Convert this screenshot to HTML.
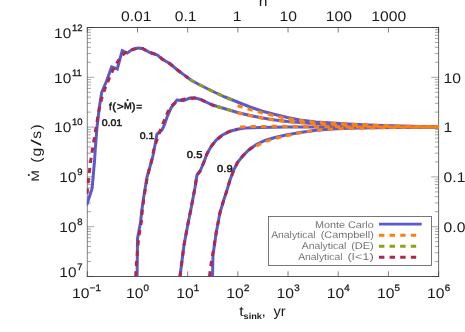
<!DOCTYPE html>
<html><head><meta charset="utf-8"><style>html,body{margin:0;padding:0;background:#fff}svg{display:block;will-change:transform;transform:translateZ(0)}text{text-rendering:geometricPrecision;font-family:"Liberation Sans",sans-serif}</style></head><body><svg width="465" height="332" viewBox="0 0 465 332">
<rect width="465" height="332" fill="#fff"/>
<g stroke="#2a2a2a" stroke-width="0.42" fill="none">
<line x1="86.89999999999999" y1="27.5" x2="439.0" y2="27.5" stroke-width="0.85"/>
<line x1="86.89999999999999" y1="276.5" x2="439.0" y2="276.5" stroke-width="0.8"/>
<line x1="87.3" y1="27.5" x2="87.3" y2="276.5" stroke-width="0.6"/>
<line x1="438.6" y1="27.5" x2="438.6" y2="276.9" stroke-width="0.7"/>
<line x1="87.30" y1="27.5" x2="87.30" y2="32.5" stroke-width="0.6"/>
<line x1="87.30" y1="276.5" x2="87.30" y2="271.3" stroke-width="0.6"/>
<line x1="137.49" y1="27.5" x2="137.49" y2="32.5" stroke-width="0.6"/>
<line x1="137.49" y1="276.5" x2="137.49" y2="271.3" stroke-width="0.6"/>
<line x1="187.67" y1="27.5" x2="187.67" y2="32.5" stroke-width="0.6"/>
<line x1="187.67" y1="276.5" x2="187.67" y2="271.3" stroke-width="0.6"/>
<line x1="237.86" y1="27.5" x2="237.86" y2="32.5" stroke-width="0.6"/>
<line x1="237.86" y1="276.5" x2="237.86" y2="271.3" stroke-width="0.6"/>
<line x1="288.04" y1="27.5" x2="288.04" y2="32.5" stroke-width="0.6"/>
<line x1="288.04" y1="276.5" x2="288.04" y2="271.3" stroke-width="0.6"/>
<line x1="338.23" y1="27.5" x2="338.23" y2="32.5" stroke-width="0.6"/>
<line x1="338.23" y1="276.5" x2="338.23" y2="271.3" stroke-width="0.6"/>
<line x1="388.41" y1="27.5" x2="388.41" y2="32.5" stroke-width="0.6"/>
<line x1="388.41" y1="276.5" x2="388.41" y2="271.3" stroke-width="0.6"/>
<line x1="438.60" y1="27.5" x2="438.60" y2="32.5" stroke-width="0.6"/>
<line x1="438.60" y1="276.5" x2="438.60" y2="271.3" stroke-width="0.6"/>
<line x1="87.3" y1="27.50" x2="94.1" y2="27.50"/>
<line x1="438.6" y1="27.50" x2="431.20000000000005" y2="27.50"/>
<line x1="87.3" y1="62.31" x2="91.0" y2="62.31"/>
<line x1="438.6" y1="62.31" x2="434.90000000000003" y2="62.31"/>
<line x1="87.3" y1="53.54" x2="91.0" y2="53.54"/>
<line x1="438.6" y1="53.54" x2="434.90000000000003" y2="53.54"/>
<line x1="87.3" y1="47.32" x2="91.0" y2="47.32"/>
<line x1="438.6" y1="47.32" x2="434.90000000000003" y2="47.32"/>
<line x1="87.3" y1="42.49" x2="91.0" y2="42.49"/>
<line x1="438.6" y1="42.49" x2="434.90000000000003" y2="42.49"/>
<line x1="87.3" y1="38.55" x2="91.0" y2="38.55"/>
<line x1="438.6" y1="38.55" x2="434.90000000000003" y2="38.55"/>
<line x1="87.3" y1="35.21" x2="91.0" y2="35.21"/>
<line x1="438.6" y1="35.21" x2="434.90000000000003" y2="35.21"/>
<line x1="87.3" y1="32.33" x2="91.0" y2="32.33"/>
<line x1="438.6" y1="32.33" x2="434.90000000000003" y2="32.33"/>
<line x1="87.3" y1="29.78" x2="91.0" y2="29.78"/>
<line x1="438.6" y1="29.78" x2="434.90000000000003" y2="29.78"/>
<line x1="87.3" y1="77.30" x2="94.1" y2="77.30"/>
<line x1="438.6" y1="77.30" x2="431.20000000000005" y2="77.30"/>
<line x1="87.3" y1="112.11" x2="91.0" y2="112.11"/>
<line x1="438.6" y1="112.11" x2="434.90000000000003" y2="112.11"/>
<line x1="87.3" y1="103.34" x2="91.0" y2="103.34"/>
<line x1="438.6" y1="103.34" x2="434.90000000000003" y2="103.34"/>
<line x1="87.3" y1="97.12" x2="91.0" y2="97.12"/>
<line x1="438.6" y1="97.12" x2="434.90000000000003" y2="97.12"/>
<line x1="87.3" y1="92.29" x2="91.0" y2="92.29"/>
<line x1="438.6" y1="92.29" x2="434.90000000000003" y2="92.29"/>
<line x1="87.3" y1="88.35" x2="91.0" y2="88.35"/>
<line x1="438.6" y1="88.35" x2="434.90000000000003" y2="88.35"/>
<line x1="87.3" y1="85.01" x2="91.0" y2="85.01"/>
<line x1="438.6" y1="85.01" x2="434.90000000000003" y2="85.01"/>
<line x1="87.3" y1="82.13" x2="91.0" y2="82.13"/>
<line x1="438.6" y1="82.13" x2="434.90000000000003" y2="82.13"/>
<line x1="87.3" y1="79.58" x2="91.0" y2="79.58"/>
<line x1="438.6" y1="79.58" x2="434.90000000000003" y2="79.58"/>
<line x1="87.3" y1="127.10" x2="94.1" y2="127.10"/>
<line x1="438.6" y1="127.10" x2="431.20000000000005" y2="127.10"/>
<line x1="87.3" y1="161.91" x2="91.0" y2="161.91"/>
<line x1="438.6" y1="161.91" x2="434.90000000000003" y2="161.91"/>
<line x1="87.3" y1="153.14" x2="91.0" y2="153.14"/>
<line x1="438.6" y1="153.14" x2="434.90000000000003" y2="153.14"/>
<line x1="87.3" y1="146.92" x2="91.0" y2="146.92"/>
<line x1="438.6" y1="146.92" x2="434.90000000000003" y2="146.92"/>
<line x1="87.3" y1="142.09" x2="91.0" y2="142.09"/>
<line x1="438.6" y1="142.09" x2="434.90000000000003" y2="142.09"/>
<line x1="87.3" y1="138.15" x2="91.0" y2="138.15"/>
<line x1="438.6" y1="138.15" x2="434.90000000000003" y2="138.15"/>
<line x1="87.3" y1="134.81" x2="91.0" y2="134.81"/>
<line x1="438.6" y1="134.81" x2="434.90000000000003" y2="134.81"/>
<line x1="87.3" y1="131.93" x2="91.0" y2="131.93"/>
<line x1="438.6" y1="131.93" x2="434.90000000000003" y2="131.93"/>
<line x1="87.3" y1="129.38" x2="91.0" y2="129.38"/>
<line x1="438.6" y1="129.38" x2="434.90000000000003" y2="129.38"/>
<line x1="87.3" y1="176.90" x2="94.1" y2="176.90"/>
<line x1="438.6" y1="176.90" x2="431.20000000000005" y2="176.90"/>
<line x1="87.3" y1="211.71" x2="91.0" y2="211.71"/>
<line x1="438.6" y1="211.71" x2="434.90000000000003" y2="211.71"/>
<line x1="87.3" y1="202.94" x2="91.0" y2="202.94"/>
<line x1="438.6" y1="202.94" x2="434.90000000000003" y2="202.94"/>
<line x1="87.3" y1="196.72" x2="91.0" y2="196.72"/>
<line x1="438.6" y1="196.72" x2="434.90000000000003" y2="196.72"/>
<line x1="87.3" y1="191.89" x2="91.0" y2="191.89"/>
<line x1="438.6" y1="191.89" x2="434.90000000000003" y2="191.89"/>
<line x1="87.3" y1="187.95" x2="91.0" y2="187.95"/>
<line x1="438.6" y1="187.95" x2="434.90000000000003" y2="187.95"/>
<line x1="87.3" y1="184.61" x2="91.0" y2="184.61"/>
<line x1="438.6" y1="184.61" x2="434.90000000000003" y2="184.61"/>
<line x1="87.3" y1="181.73" x2="91.0" y2="181.73"/>
<line x1="438.6" y1="181.73" x2="434.90000000000003" y2="181.73"/>
<line x1="87.3" y1="179.18" x2="91.0" y2="179.18"/>
<line x1="438.6" y1="179.18" x2="434.90000000000003" y2="179.18"/>
<line x1="87.3" y1="226.70" x2="94.1" y2="226.70"/>
<line x1="438.6" y1="226.70" x2="431.20000000000005" y2="226.70"/>
<line x1="87.3" y1="261.51" x2="91.0" y2="261.51"/>
<line x1="438.6" y1="261.51" x2="434.90000000000003" y2="261.51"/>
<line x1="87.3" y1="252.74" x2="91.0" y2="252.74"/>
<line x1="438.6" y1="252.74" x2="434.90000000000003" y2="252.74"/>
<line x1="87.3" y1="246.52" x2="91.0" y2="246.52"/>
<line x1="438.6" y1="246.52" x2="434.90000000000003" y2="246.52"/>
<line x1="87.3" y1="241.69" x2="91.0" y2="241.69"/>
<line x1="438.6" y1="241.69" x2="434.90000000000003" y2="241.69"/>
<line x1="87.3" y1="237.75" x2="91.0" y2="237.75"/>
<line x1="438.6" y1="237.75" x2="434.90000000000003" y2="237.75"/>
<line x1="87.3" y1="234.41" x2="91.0" y2="234.41"/>
<line x1="438.6" y1="234.41" x2="434.90000000000003" y2="234.41"/>
<line x1="87.3" y1="231.53" x2="91.0" y2="231.53"/>
<line x1="438.6" y1="231.53" x2="434.90000000000003" y2="231.53"/>
<line x1="87.3" y1="228.98" x2="91.0" y2="228.98"/>
<line x1="438.6" y1="228.98" x2="434.90000000000003" y2="228.98"/>
<line x1="87.3" y1="276.50" x2="94.1" y2="276.50"/>
<line x1="438.6" y1="276.50" x2="431.20000000000005" y2="276.50"/>
</g>
<clipPath id="cp"><rect x="86.8" y="27.5" width="352.2" height="249.4"/></clipPath>
<g clip-path="url(#cp)">
<polyline points="86.60,205.50 92.10,188.50 93.30,175.00 94.60,160.00 95.20,150.00 97.00,127.50 99.30,107.50 101.70,92.50 106.50,81.25 111.60,66.90 117.25,69.00 122.25,50.60 127.25,53.10 132.25,49.40 137.90,48.00 142.50,48.50 150.00,52.50 157.50,55.00 162.50,59.40 170.00,63.75 177.50,70.00 185.00,75.60 191.50,80.50 200.00,85.00 212.50,91.25 225.00,97.00 237.50,102.00 250.00,107.00 262.50,111.25 275.00,114.50 287.50,117.50 300.00,120.00 316.00,122.00 332.00,123.10 348.00,124.00 375.00,125.20 400.00,126.10 420.00,126.60 439.00,127.00" fill="none" stroke="#5A5ACD" stroke-width="3.0" stroke-linejoin="miter"/>
<polyline points="137.10,276.50 137.50,238.60 140.60,222.00 141.80,210.50 143.90,195.80 147.10,176.80 151.90,160.00 153.10,155.00 155.00,145.00 156.90,134.40 161.90,130.00 164.40,125.00 166.90,117.50 171.25,107.50 176.90,100.00 183.10,100.60 190.00,98.10 195.00,98.00 200.00,99.20 212.50,105.00 225.00,108.75 237.50,112.50 250.00,115.50 262.50,118.00 275.00,120.00 287.50,121.50 300.00,122.50 316.00,123.80 348.00,125.30 375.00,126.00 400.00,126.50 439.00,127.00" fill="none" stroke="#5A5ACD" stroke-width="3.0" stroke-linejoin="miter"/>
<polyline points="180.00,276.50 184.00,245.00 187.75,225.00 191.25,207.50 195.00,187.50 197.00,175.00 200.00,171.25 203.75,162.50 207.00,153.75 211.25,146.25 216.25,140.00 222.50,135.00 230.00,131.25 237.50,129.25 245.00,128.00 260.00,127.40 286.00,127.00 439.00,127.00" fill="none" stroke="#5A5ACD" stroke-width="3.0" stroke-linejoin="miter"/>
<polyline points="212.50,276.50 213.00,255.00 216.25,232.50 220.00,212.50 223.75,200.00 226.25,192.50 230.00,180.00 233.75,170.00 237.50,162.50 242.50,156.25 248.75,150.00 256.25,144.50 265.00,140.50 275.00,137.50 286.00,135.00 300.00,132.50 316.00,130.20 332.00,129.00 348.00,128.20 375.00,127.70 400.00,127.40 439.00,127.00" fill="none" stroke="#5A5ACD" stroke-width="3.0" stroke-linejoin="miter"/>
<polyline points="237.50,105.75 250.00,109.50 262.50,113.00 275.00,116.00 287.50,118.50 300.00,120.50 316.00,122.30 332.00,123.30 348.00,124.20 375.00,125.30 400.00,126.10 420.00,126.60 439.00,127.00" fill="none" stroke="#FF7F0E" stroke-width="3" stroke-linejoin="round" stroke-dasharray="5.35 5.2" stroke-dashoffset="0"/>
<polyline points="237.50,112.80 250.00,115.70 262.50,118.20 275.00,120.20 287.50,121.70 300.00,122.70 316.00,123.90 348.00,125.40 375.00,126.00 400.00,126.50 439.00,127.00" fill="none" stroke="#FF7F0E" stroke-width="3" stroke-linejoin="round" stroke-dasharray="5.35 5.2" stroke-dashoffset="0"/>
<polyline points="240.00,127.00 250.00,126.60 275.00,126.30 300.00,126.50 330.00,126.80 360.00,127.00 439.00,127.00" fill="none" stroke="#FF7F0E" stroke-width="3" stroke-linejoin="round" stroke-dasharray="5.35 5.2" stroke-dashoffset="0"/>
<polyline points="256.25,145.90 265.00,141.70 275.00,138.50 286.00,135.80 300.00,132.90 316.00,130.40 332.00,129.10 348.00,128.20 375.00,127.70 400.00,127.40 439.00,127.00" fill="none" stroke="#FF7F0E" stroke-width="3" stroke-linejoin="round" stroke-dasharray="5.35 5.2" stroke-dashoffset="0"/>
<polyline points="190.00,79.50 200.00,85.00 212.50,91.25 225.00,97.00 232.00,100.00" fill="none" stroke="#8FA010" stroke-width="3" stroke-linejoin="round" stroke-dasharray="5.3 5.05" stroke-dashoffset="0"/>
<polyline points="217.00,106.50 225.00,108.75 232.00,110.80" fill="none" stroke="#8FA010" stroke-width="3" stroke-linejoin="round" stroke-dasharray="5.3 5.05" stroke-dashoffset="0"/>
<polyline points="87.00,193.75 88.70,177.00 90.80,160.00 92.40,150.00 94.30,138.00 96.30,126.00 99.00,110.00 102.30,96.00 106.00,86.00 109.10,78.75 112.90,70.00 117.90,61.25 121.00,56.50 124.75,53.10 128.50,51.00 133.50,49.40 137.90,48.00 142.50,48.50 150.00,52.50 157.50,55.00 162.50,59.40 170.00,63.75 177.50,70.00 185.00,75.60 188.00,78.00" fill="none" stroke="#B02848" stroke-width="3" stroke-linejoin="round" stroke-dasharray="5.3 5.05" stroke-dashoffset="0"/>
<polyline points="135.60,276.50 137.00,257.00 137.80,246.50 139.20,234.20 141.30,222.00 142.30,210.50 144.20,195.80 147.30,176.80 151.50,161.00 153.75,150.00 156.90,140.00 160.60,129.40 164.40,120.00 168.00,111.50 172.00,105.50 176.25,102.00 180.50,100.30 185.00,99.00 190.00,98.20 195.00,98.00 200.00,99.20 212.50,105.00 217.00,106.50" fill="none" stroke="#B02848" stroke-width="3" stroke-linejoin="round" stroke-dasharray="5.3 5.05" stroke-dashoffset="0"/>
<polyline points="180.00,276.50 184.00,245.00 187.75,225.00 191.25,207.50 195.00,187.50 197.00,175.00 200.00,171.25 203.75,162.50 207.00,153.75 211.25,146.25 216.25,140.00 222.50,135.00 230.00,131.25 237.50,129.25" fill="none" stroke="#B02848" stroke-width="3" stroke-linejoin="round" stroke-dasharray="5.3 5.05" stroke-dashoffset="0"/>
<polyline points="209.50,276.50 211.25,262.50 213.50,250.00 216.25,232.50 220.00,212.50 223.75,200.00 226.25,192.50 230.00,180.00 233.75,170.00 237.50,162.50 242.50,156.25 248.75,150.00 256.25,144.50" fill="none" stroke="#B02848" stroke-width="3" stroke-linejoin="round" stroke-dasharray="5.3 5.05" stroke-dashoffset="0"/>
</g>
<g fill="#1a1a1a">
<text transform="translate(136.19,20.50) scale(1.12,1)" font-size="14" text-anchor="middle">0.01</text>
<text transform="translate(185.67,20.50) scale(1.12,1)" font-size="14" text-anchor="middle">0.1</text>
<text transform="translate(237.06,20.50) scale(1.12,1)" font-size="14" text-anchor="middle">1</text>
<text transform="translate(288.24,20.50) scale(1.12,1)" font-size="14" text-anchor="middle">10</text>
<text transform="translate(338.83,20.50) scale(1.12,1)" font-size="14" text-anchor="middle">100</text>
<text transform="translate(388.81,20.50) scale(1.12,1)" font-size="14" text-anchor="middle">1000</text>
<text transform="translate(263.00,6.20) scale(1.12,1)" font-size="14" text-anchor="middle">n</text>
<text transform="translate(443.60,82.60) scale(1.12,1)" font-size="14">10</text>
<text transform="translate(443.60,132.40) scale(1.12,1)" font-size="14">1</text>
<text transform="translate(443.60,182.20) scale(1.12,1)" font-size="14">0.1</text>
<text transform="translate(443.60,232.00) scale(1.12,1)" font-size="14">0.0</text>
<text transform="translate(71.90,30.50) scale(1.02,1)" font-size="9.3" stroke="#1a1a1a" stroke-width="0.3">12</text>
<text transform="translate(71.20,37.50) scale(1.1,1)" font-size="14" text-anchor="end">10</text>
<text transform="translate(71.90,75.50) scale(1.02,1)" font-size="9.3" stroke="#1a1a1a" stroke-width="0.3">11</text>
<text transform="translate(71.20,82.50) scale(1.1,1)" font-size="14" text-anchor="end">10</text>
<text transform="translate(71.90,125.30) scale(1.02,1)" font-size="9.3" stroke="#1a1a1a" stroke-width="0.3">10</text>
<text transform="translate(71.20,132.30) scale(1.1,1)" font-size="14" text-anchor="end">10</text>
<text transform="translate(77.20,175.10) scale(1.02,1)" font-size="9.3" stroke="#1a1a1a" stroke-width="0.3">9</text>
<text transform="translate(76.50,182.10) scale(1.1,1)" font-size="14" text-anchor="end">10</text>
<text transform="translate(77.20,224.90) scale(1.02,1)" font-size="9.3" stroke="#1a1a1a" stroke-width="0.3">8</text>
<text transform="translate(76.50,231.90) scale(1.1,1)" font-size="14" text-anchor="end">10</text>
<text transform="translate(77.20,269.80) scale(1.02,1)" font-size="9.3" stroke="#1a1a1a" stroke-width="0.3">7</text>
<text transform="translate(76.50,276.80) scale(1.1,1)" font-size="14" text-anchor="end">10</text>
<text transform="translate(72.10,297.50) scale(1.12,1)" font-size="14">10</text>
<text transform="translate(89.70,290.60) scale(1.04,1)" font-size="9.4" stroke="#1a1a1a" stroke-width="0.3">−1</text>
<text transform="translate(125.99,297.50) scale(1.12,1)" font-size="14">10</text>
<text transform="translate(143.59,290.60) scale(1.04,1)" font-size="9.4" stroke="#1a1a1a" stroke-width="0.3">0</text>
<text transform="translate(176.17,297.50) scale(1.12,1)" font-size="14">10</text>
<text transform="translate(193.77,290.60) scale(1.04,1)" font-size="9.4" stroke="#1a1a1a" stroke-width="0.3">1</text>
<text transform="translate(226.36,297.50) scale(1.12,1)" font-size="14">10</text>
<text transform="translate(243.96,290.60) scale(1.04,1)" font-size="9.4" stroke="#1a1a1a" stroke-width="0.3">2</text>
<text transform="translate(276.54,297.50) scale(1.12,1)" font-size="14">10</text>
<text transform="translate(294.14,290.60) scale(1.04,1)" font-size="9.4" stroke="#1a1a1a" stroke-width="0.3">3</text>
<text transform="translate(326.73,297.50) scale(1.12,1)" font-size="14">10</text>
<text transform="translate(344.33,290.60) scale(1.04,1)" font-size="9.4" stroke="#1a1a1a" stroke-width="0.3">4</text>
<text transform="translate(376.91,297.50) scale(1.12,1)" font-size="14">10</text>
<text transform="translate(394.51,290.60) scale(1.04,1)" font-size="9.4" stroke="#1a1a1a" stroke-width="0.3">5</text>
<text transform="translate(427.10,297.50) scale(1.12,1)" font-size="14">10</text>
<text transform="translate(444.70,290.60) scale(1.04,1)" font-size="9.4" stroke="#1a1a1a" stroke-width="0.3">6</text>
<text transform="translate(239.30,316.30) scale(1.12,1)" font-size="14">t</text>
<text transform="translate(243.60,319.30) scale(1.08,1)" font-size="8.5" font-weight="bold">sink</text>
<text transform="translate(261.50,316.30) scale(1.12,1)" font-size="14">,</text>
<text transform="translate(273.40,316.30) scale(1.05,1)" font-size="14">yr</text>
<text transform="translate(40.60,160.10) rotate(-90) scale(1.12,1)" font-size="14" text-anchor="middle">(</text>
<text transform="translate(40.60,152.20) rotate(-90) scale(1.12,1)" font-size="14" text-anchor="middle">g</text>
<text transform="translate(40.60,142.70) rotate(-90) scale(1.75,1)" font-size="14" text-anchor="middle">/</text>
<text transform="translate(40.60,134.90) rotate(-90) scale(1.12,1)" font-size="14" text-anchor="middle">s</text>
<text transform="translate(40.60,127.00) rotate(-90) scale(1.12,1)" font-size="14" text-anchor="middle">)</text>
<text transform="translate(39.10,175.90) rotate(-90) scale(1.25,1)" font-size="10.9" text-anchor="middle">M</text>
<circle cx="28.8" cy="174.9" r="1.0"/>
<text transform="translate(101.70,125.60) scale(1.1,1)" font-size="9.6" stroke="#1a1a1a" stroke-width="0.5">0.01</text>
<text transform="translate(139.70,138.50) scale(1.1,1)" font-size="9.6" stroke="#1a1a1a" stroke-width="0.5">0.1</text>
<text transform="translate(186.80,157.70) scale(1.12,1)" font-size="10" stroke="#1a1a1a" stroke-width="0.5">0.5</text>
<text transform="translate(217.10,172.00) scale(1.12,1)" font-size="10" stroke="#1a1a1a" stroke-width="0.5">0.9</text>
<text transform="translate(108.90,109.60) scale(0.9784999999999999,1)" font-size="10.3" stroke="#1a1a1a" stroke-width="0.5">f</text>
<text transform="translate(112.30,109.60) scale(1.0815000000000001,1)" font-size="10.5" stroke="#1a1a1a" stroke-width="0.5">(</text>
<text transform="translate(116.90,109.60) scale(1.1124,1)" font-size="10.3" stroke="#1a1a1a" stroke-width="0.5">&gt;</text>
<text transform="translate(123.90,109.00) scale(1.03,1)" font-size="9" stroke="#1a1a1a" stroke-width="0.5">M</text>
<text transform="translate(131.80,109.60) scale(1.0815000000000001,1)" font-size="10.5" stroke="#1a1a1a" stroke-width="0.5">)</text>
<text transform="translate(136.30,109.60) scale(0.9784999999999999,1)" font-size="10.3" stroke="#1a1a1a" stroke-width="0.5">=</text>
<circle cx="127.6" cy="99.9" r="1.0"/>
</g>
<rect x="268.5" y="216.4" width="163" height="49" fill="#fff" stroke="#555" stroke-width="0.8"/>
<g fill="#333" font-size="9.7" stroke="#fff" stroke-width="0.22">
<text x="314.95" y="227.50" textLength="58.85" lengthAdjust="spacingAndGlyphs">Monte Carlo</text>
<text x="271.2" y="238.35" textLength="44.35" lengthAdjust="spacingAndGlyphs">Analytical</text>
<text x="320.7" y="238.35" textLength="53.10" lengthAdjust="spacingAndGlyphs">(Campbell)</text>
<text x="301.7" y="249.20" textLength="44.60" lengthAdjust="spacingAndGlyphs">Analytical</text>
<text x="351.2" y="249.20" textLength="22.60" lengthAdjust="spacingAndGlyphs">(DE)</text>
<text x="298.2" y="260.05" textLength="44.35" lengthAdjust="spacingAndGlyphs">Analytical</text>
<text x="347.45" y="260.05" textLength="26.35" lengthAdjust="spacingAndGlyphs">(l&lt;1)</text>
</g>
<line x1="379" y1="224.1" x2="421.7" y2="224.1" stroke="#5A5ACD" stroke-width="2.7"/>
<line x1="379" y1="235.20" x2="417" y2="235.20" stroke="#FF7F0E" stroke-width="3" stroke-dasharray="5.4 5.2"/>
<line x1="379" y1="246.25" x2="417" y2="246.25" stroke="#8FA010" stroke-width="3" stroke-dasharray="5.4 5.2"/>
<line x1="379" y1="257.30" x2="417" y2="257.30" stroke="#B02848" stroke-width="3" stroke-dasharray="5.4 5.2"/>
</svg></body></html>
